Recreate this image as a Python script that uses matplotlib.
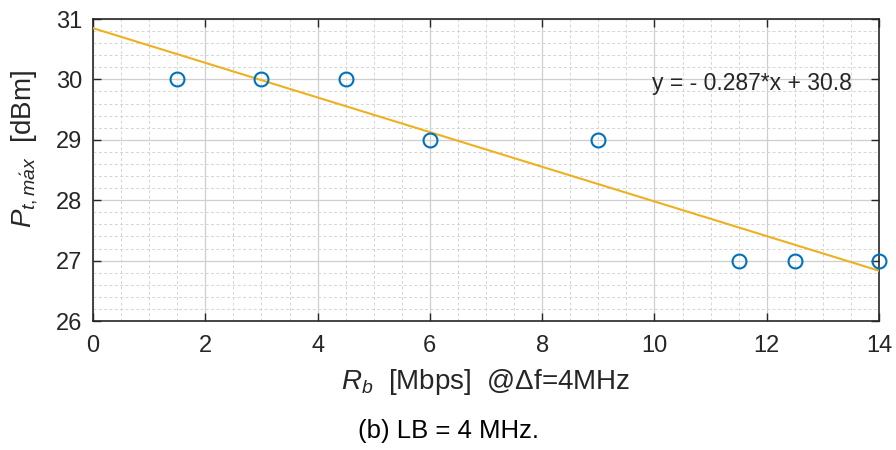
import numpy as np
import matplotlib.pyplot as plt
from matplotlib.ticker import MultipleLocator

plt.rcParams['font.family'] = ['Liberation Sans', 'DejaVu Sans']
plt.rcParams['mathtext.fontset'] = 'custom'
plt.rcParams['mathtext.rm'] = 'Liberation Sans'
plt.rcParams['mathtext.it'] = 'Liberation Sans:italic'

# Bit rate [Mbps] and maximum transmit power [dBm]
rb = [1.5, 3, 4.5, 6, 9, 11.5, 12.5, 14]
pt_max = [30, 30, 30, 29, 29, 27, 27, 27]

# Linear least-squares fit
slope, intercept = np.polyfit(rb, pt_max, 1)
x_fit = np.array([0, 14])
y_fit = slope * x_fit + intercept

fig = plt.figure(figsize=(8.96, 4.5), dpi=100)
ax = fig.add_axes([93 / 896, 1 - 321 / 450, (879 - 93) / 896, (321 - 19) / 450])

ax.plot(x_fit, y_fit, color='#EDB120', lw=1.5, zorder=3)
ax.plot(rb, pt_max, 'o', mfc='none', mec='#0072BD', mew=1.5, ms=10,
        zorder=4, clip_on=False)

ax.set_xlim(0, 14)
ax.set_ylim(26, 31)
ax.xaxis.set_major_locator(MultipleLocator(2))
ax.xaxis.set_minor_locator(MultipleLocator(0.5))
ax.yaxis.set_major_locator(MultipleLocator(1))
ax.yaxis.set_minor_locator(MultipleLocator(0.2))

ax.grid(which='major', color='#cfcfcf', lw=0.9, ls='-')
ax.grid(which='minor', color='#d4d4d4', lw=0.7, ls=(0, (3, 2.5)))
ax.set_axisbelow(True)

ax.tick_params(which='major', direction='in', length=6, width=1, top=True,
               right=True, labelsize=17, colors='#262626')
ax.tick_params(axis='x', pad=10)
ax.tick_params(axis='y', pad=8)
ax.tick_params(which='minor', length=0)
for s in ax.spines.values():
    s.set_linewidth(1.2)
    s.set_color('#262626')

ax.set_xlabel(r'$R_b$  [Mbps]  @$\Delta$f=4MHz', fontsize=20, color='#262626',
              labelpad=7)
ax.set_ylabel(r'$P_{t,m\acute{a}x}$  [dBm]', fontsize=20, color='#262626',
              labelpad=8)
ax.yaxis.set_label_coords(-0.068, 0.57)

sign = '-' if slope < 0 else '+'
ax.text(9.95, 29.93, f'y = {sign} {abs(slope):.3f}*x + {intercept:.1f}',
        fontsize=16.5, color='#262626', va='center', ha='left')

fig.text(0.5, 1 - 431 / 450, '(b) LB = 4 MHz.', fontsize=18.5, ha='center',
         va='center', color='black')

fig.savefig('out.png', dpi=100)
